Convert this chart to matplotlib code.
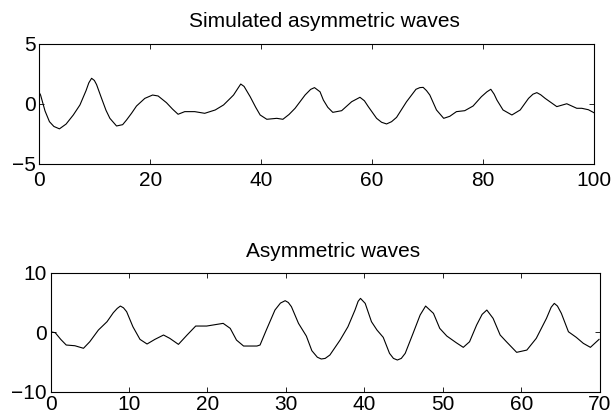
import numpy as np
import matplotlib
matplotlib.use('Agg')
import matplotlib.pyplot as plt

# Simulated asymmetric waves
sim_t = [0.0, 0.2, 1.0, 1.8, 2.6, 3.6, 4.8, 6.1, 7.3, 8.4, 8.9, 9.4, 9.9, 10.3, 11.2, 12.0, 12.7, 13.9, 15.0, 15.7,
         16.6, 17.5, 19.0, 20.4, 21.4, 22.9, 24.0, 25.0, 26.2, 28.0, 29.8, 31.7, 33.2, 34.4, 35.0, 35.8, 36.3, 36.9,
         38.0, 39.0, 39.8, 41.0, 42.8, 43.9, 45.0, 46.1, 47.9, 48.9, 49.6, 50.6, 51.2, 52.0, 52.9, 54.5, 56.3, 57.8,
         58.6, 59.3, 60.8, 61.7, 62.6, 63.5, 64.4, 66.2, 67.9, 68.6, 69.2, 69.8, 70.4, 71.6, 72.9, 74.0, 75.2, 76.7, 78.2,
         79.7, 80.7, 81.4, 82.0, 82.5, 83.6, 85.2, 86.7, 88.2, 89.0, 89.7, 90.4, 91.2, 93.3, 95.1, 96.9, 97.8, 99.0, 100.0]
sim_y = [0.9, 0.73, -0.6, -1.5, -1.9, -2.1, -1.7, -0.94, -0.1, 1.1, 1.75, 2.13, 1.95, 1.6, 0.45, -0.55, -1.22, -1.86, -1.75, -1.36,
         -0.8, -0.19, 0.45, 0.73, 0.65, 0.09, -0.45, -0.88, -0.66, -0.66, -0.8, -0.52, -0.1, 0.45, 0.73, 1.3, 1.65, 1.45,
         0.59, -0.3, -0.94, -1.3, -1.22, -1.3, -0.9, -0.38, 0.73, 1.2, 1.35, 1.0, 0.31, -0.3, -0.72, -0.58, 0.17, 0.54,
         0.25, -0.24, -1.22, -1.55, -1.69, -1.5, -1.14, 0.17, 1.21, 1.35, 1.37, 1.1, 0.73, -0.52, -1.22, -1.05, -0.66, -0.58, -0.19,
         0.59, 1.0, 1.21, 0.8, 0.31, -0.52, -0.94, -0.52, 0.45, 0.8, 0.93, 0.75, 0.45, -0.24, 0.0, -0.38, -0.38, -0.5, -0.75]

# Asymmetric waves
asy_t = [0.0, 0.6, 1.3, 2.0, 3.1, 4.2, 5.0, 6.1, 7.2, 8.0, 8.5, 8.9, 9.3, 9.7, 10.5, 11.4, 12.3, 13.3, 14.4,
         15.2, 16.3, 17.4, 18.5, 19.9, 21.2, 22.0, 22.9, 23.7, 24.6, 26.3, 26.7, 27.5, 28.6, 29.3,
         29.9, 30.3, 30.7, 31.6, 32.6, 33.3, 34.0, 34.5, 35.0, 35.6, 36.9, 37.9, 38.8, 39.2, 39.5, 40.1, 40.9, 41.6,
         42.4, 43.2, 43.7, 44.2, 44.7, 45.2, 46.2, 47.1, 47.8, 48.8, 49.6, 50.5, 51.7, 52.6, 53.4, 54.3,
         55.0, 55.6, 56.4, 57.3, 58.1, 59.4, 60.7, 61.9, 63.2, 63.8, 64.2, 64.6, 65.1, 66.0, 67.0, 67.9, 68.8, 69.9]
asy_y = [0.08, -0.08, -1.2, -2.15, -2.27, -2.7, -1.6, 0.37, 1.77, 3.28, 4.0, 4.4, 4.1, 3.45, 0.92, -1.2, -1.98, -1.2, -0.47,
         -1.03, -2.04, -0.47, 1.04, 1.04, 1.32, 1.49, 0.65, -1.32, -2.32, -2.32, -2.15, 0.37, 3.73, 4.9,
         5.3, 5.0, 4.29, 1.49, -0.64, -3.1, -4.2, -4.5, -4.4, -3.83, -1.32, 0.92, 3.73, 5.2, 5.69, 4.85, 1.77, 0.37,
         -0.86, -3.55, -4.4, -4.67, -4.4, -3.55, -0.19, 2.89, 4.4, 3.17, 0.65, -0.64, -1.76, -2.54, -1.6, 1.21,
         3.0, 3.73, 2.33, -0.47, -1.6, -3.38, -3.0, -1.03, 2.33, 4.2, 4.85, 4.4, 3.17, 0.08, -0.86, -1.87, -2.54, -1.2]

plt.rcParams['font.family'] = ['Liberation Sans', 'DejaVu Sans']
plt.rcParams['font.size'] = 15

fig = plt.figure(figsize=(6.11, 4.15), dpi=100)

def style(ax, xpad):
    ax.tick_params(direction='in', top=True, right=True, length=3.6, width=0.6, labelsize=15)
    ax.tick_params(axis='x', pad=xpad)
    ax.tick_params(axis='y', pad=2.5)
    for s in ax.spines.values():
        s.set_linewidth(0.8)

ax1 = fig.add_axes([0.0646, 0.606, 0.9075, 0.288])
ax1.plot(sim_t, sim_y, color='black', linewidth=0.8)
ax1.set_xlim(0, 100)
ax1.set_ylim(-5, 5)
ax1.set_xticks([0, 20, 40, 60, 80, 100])
ax1.set_yticks([-5, 0, 5])
ax1.set_yticklabels(['\u22125', '0', '5'])
ax1.set_title('Simulated asymmetric waves', fontsize=15, pad=12, x=0.514)
style(ax1, 5.5)

ax2 = fig.add_axes([0.0827, 0.0561, 0.899, 0.2867])
ax2.plot(asy_t, asy_y, color='black', linewidth=0.8)
ax2.set_xlim(0, 70)
ax2.set_ylim(-10, 10)
ax2.set_xticks([0, 10, 20, 30, 40, 50, 60, 70])
ax2.set_yticks([-10, 0, 10])
ax2.set_yticklabels(['\u221210', '0', '10'])
ax2.set_title('Asymmetric waves', fontsize=15, pad=11.5, x=0.5145)
style(ax2, 2.5)

fig.savefig('out.png', dpi=100)
